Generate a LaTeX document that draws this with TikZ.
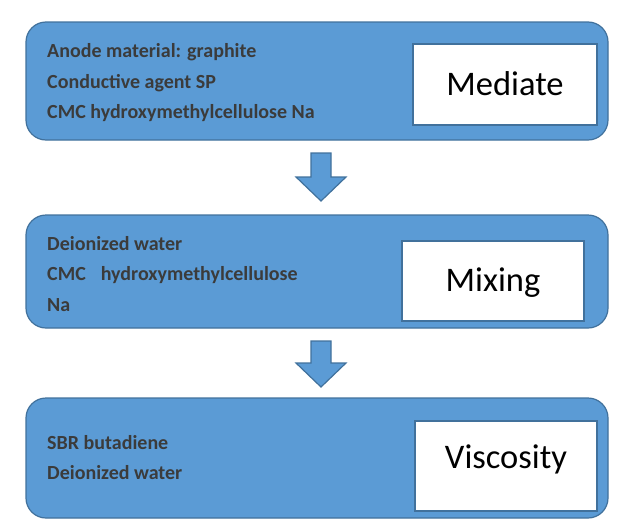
\documentclass[tikz,border=0pt]{standalone}
\usepackage{fontspec}
\setmainfont{Carlito}
\definecolor{boxblue}{HTML}{5B9BD5}
\definecolor{boxedge}{HTML}{41719C}
\definecolor{txtgray}{HTML}{3B3B3B}
\begin{document}
\begin{tikzpicture}[x=1pt,y=-1pt,
  stage/.style={draw=boxedge,fill=boxblue,line width=1.2pt,rounded corners=20pt},
  label/.style={draw=boxedge,fill=white,line width=1.2pt},
  item/.style={anchor=west,inner sep=0pt,text=txtgray,font=\fontsize{20}{22}\selectfont\bfseries},
  title/.style={inner sep=0pt,font=\fontsize{34.5}{38}\selectfont},
  blockarrow/.style={draw=boxedge,fill=boxblue,line width=1.2pt,line join=miter}]
\useasboundingbox (0,0) rectangle (636,530);
% stage boxes
\draw[stage] (26,22) rectangle (608,140);
\draw[stage] (26,215) rectangle (608,328);
\draw[stage] (26,398) rectangle (608,518);
% white label boxes
\draw[label] (413,44) rectangle (597,125);
\node[title] (t1) at (505,84) {Mediate};
\draw[label] (402,241) rectangle (584,321);
\node[title] (t2) at (493,283) {Mixing};
\draw[label] (415,421) rectangle (597,511);
\node[title] (t3) at (506,459) {Viscosity};
% texts
\node[item] (a1) at (47,52) {Anode material: graphite};
\node[item] (a2) at (47,83) {Conductive agent SP};
\node[item] (a3) at (47,113) {CMC hydroxymethylcellulose Na};
\node[item] (b1) at (47,244) {Deionized water};
\node[item] (b2) at (47,275) {CMC\hspace{0.75em}hydroxymethylcellulose};
\node[item] (b3) at (47,305) {Na};
\node[item] (c1) at (47,443) {SBR butadiene};
\node[item] (c2) at (47,473) {Deionized water};
% block arrows
\draw[blockarrow] (311,153) -- (331,153) -- (331,177) -- (346,177) -- (321,201) -- (296,177) -- (311,177) -- cycle;
\draw[blockarrow] (311,341) -- (331,341) -- (331,363) -- (346,363) -- (321,387) -- (296,363) -- (311,363) -- cycle;
\end{tikzpicture}
\end{document}
